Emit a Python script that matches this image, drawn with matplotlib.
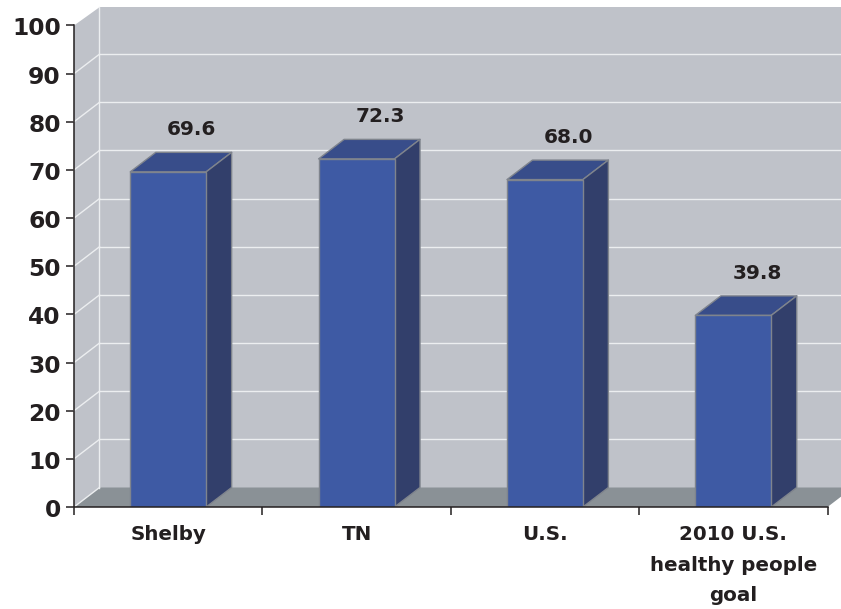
import numpy as np
import matplotlib
matplotlib.use('Agg')
import matplotlib.pyplot as plt
from matplotlib.patches import Polygon
from matplotlib.transforms import ScaledTranslation

categories = ['Shelby', 'TN', 'U.S.', '2010 U.S.\nhealthy people\ngoal']
values = [69.6, 72.3, 68.0, 39.8]
y_ticks = [0, 10, 20, 30, 40, 50, 60, 70, 80, 90, 100]

# colours
wall = '#bfc2c9'
floor = '#8a9196'
front = '#3e5aa4'
top = '#384d8a'
side = '#323f6b'
edge = '#7f848d'
ink = '#231f20'
grid = '#eceef0'

W, H = 841, 609
fig = plt.figure(figsize=(W / 100, H / 100), dpi=100)
# axes box in pixels: x 74..827.5, y 507 (0) .. 25.5 (100)
ax = fig.add_axes([74 / W, 1 - 507 / H, 753.5 / W, 481.5 / H])
ax.set_xlim(0, 4)
ax.set_ylim(0, 100)
ax.patch.set_visible(False)

# depth of the fake 3d, in data units
dx = 25.5 / 188.4
dy = 19.5 / 4.815
wall_top = 103.8

x_pos = np.arange(len(values)) + 0.5
bar_width = 0.403

# back wall, side wall, floor
ax.add_patch(Polygon([(dx, dy), (4 + dx, dy), (4 + dx, wall_top), (dx, wall_top)],
                     fc=wall, ec='none', clip_on=False, zorder=1))
ax.add_patch(Polygon([(0, 0), (dx, dy), (dx, wall_top), (0, 100)],
                     fc=wall, ec='none', clip_on=False, zorder=1))
ax.add_patch(Polygon([(0, 0), (4, 0), (4 + dx, dy), (dx, dy)],
                     fc=floor, ec='none', clip_on=False, zorder=1))

# grid lines run across the back wall and down the side wall, none at the 100 line
for t in y_ticks:
    if t == 100:
        continue
    if t > 0:
        ax.plot([dx, 4 + dx], [t + dy, t + dy], color=grid, lw=1, clip_on=False, zorder=2)
    ax.plot([0, dx], [t, t + dy], color=grid, lw=1, clip_on=False, zorder=2)
ax.plot([dx, dx], [dy, wall_top], color=grid, lw=1, zorder=2, clip_on=False)

# bars
for x, v in zip(x_pos, values):
    l = x - bar_width / 2
    r = x + bar_width / 2
    ax.add_patch(Polygon([(l, v), (r, v), (r + dx, v + dy), (l + dx, v + dy)],
                         fc=top, ec=edge, lw=1, zorder=3, joinstyle='round'))
    ax.add_patch(Polygon([(r, 0), (r + dx, dy), (r + dx, v + dy), (r, v)],
                         fc=side, ec=edge, lw=1, zorder=3, joinstyle='round'))
ax.bar(x_pos, values, bar_width, color=front, edgecolor=edge, linewidth=1, zorder=4)

# value labels sit up and to the right of each bar (offsets in points)
for x, v in zip(x_pos, values):
    ax.annotate('%.1f' % v, (x, v), xytext=(17.1, 30.2), textcoords='offset points',
                ha='center', va='center', fontsize=14.5, fontweight='bold', color=ink,
                annotation_clip=False, zorder=5)

# axes
for s in ['top', 'right']:
    ax.spines[s].set_visible(False)
for s in ['left', 'bottom']:
    ax.spines[s].set_color(ink)
    ax.spines[s].set_linewidth(1.1)
    ax.spines[s].set_zorder(6)

ax.set_yticks(y_ticks)
ax.tick_params(axis='y', length=5.5, width=1.1, color=ink, pad=4, labelsize=16.8, labelcolor=ink)
down = ScaledTranslation(0, -1 / 100, fig.dpi_scale_trans)
for lab in ax.get_yticklabels():
    lab.set_fontweight('bold')
    lab.set_transform(lab.get_transform() + down)

ax.set_xticks(np.arange(len(values) + 1))
ax.set_xticklabels([])
ax.tick_params(axis='x', which='major', length=5.5, width=1.1, color=ink)
ax.set_xticks(x_pos, minor=True)
ax.set_xticklabels(categories, minor=True, fontsize=14.3, fontweight='bold', color=ink, linespacing=1.78)
ax.tick_params(axis='x', which='minor', length=0, pad=13)

fig.savefig('out.png', dpi=100)
